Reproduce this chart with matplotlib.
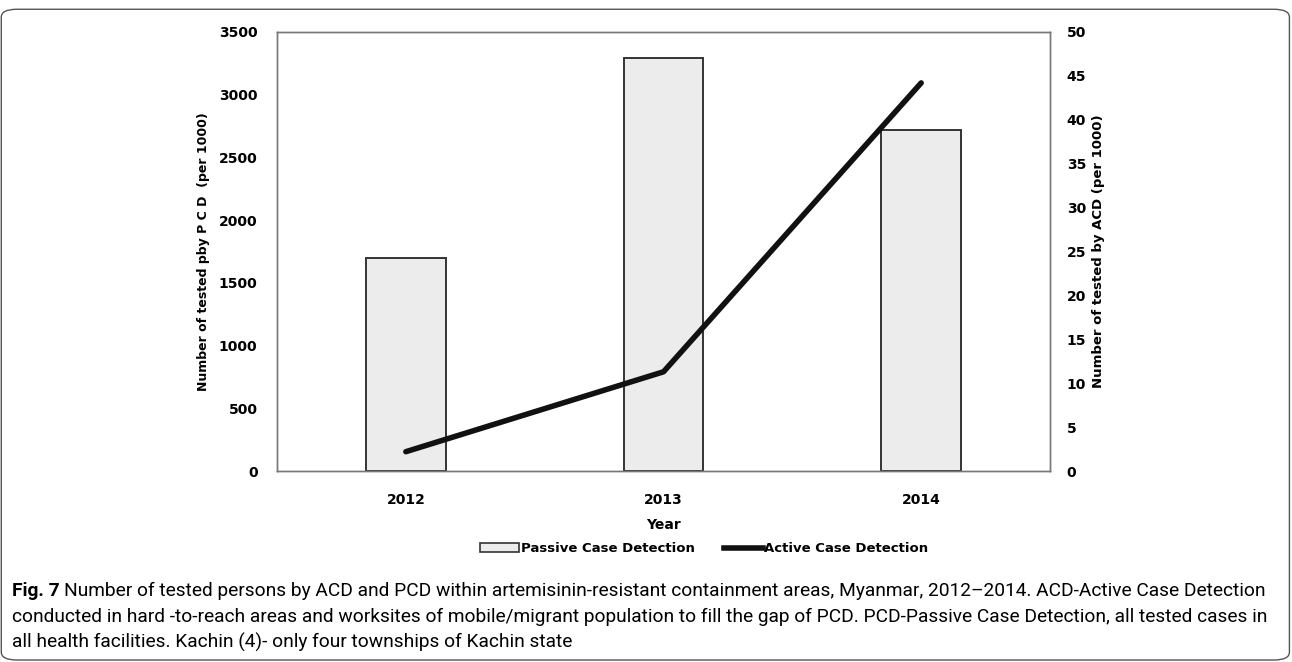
import matplotlib.pyplot as plt
from matplotlib.patches import FancyBboxPatch, Patch
from matplotlib.lines import Line2D

years = ["2012", "2013", "2014"]
pcd_tested = [1700, 3290, 2720]      # left axis, bars
acd_tested = [2.2, 11.3, 44.2]       # right axis, line

left_ticks = [0, 500, 1000, 1500, 2000, 2500, 3000, 3500]
right_ticks = [0, 5, 10, 15, 20, 25, 30, 35, 40, 45, 50]

caption_lines = [
    "Number of tested persons by ACD and PCD within artemisinin-resistant containment areas, "
    "Myanmar, 2012\u20132014. ACD-Active Case Detection",
    "conducted in hard -to-reach areas and worksites of mobile/migrant population to fill the gap "
    "of PCD. PCD-Passive Case Detection, all tested cases in",
    "all health facilities. Kachin (4)- only four townships of Kachin state",
]

cond = dict(family=["DejaVu Sans"], weight="bold")
plt.rcParams['font.family'] = ["DejaVu Sans"]

fig = plt.figure(figsize=(12.92, 6.62), dpi=100)
ax = fig.add_axes([0.2144, 0.2885, 0.5983, 0.6632])

x = range(len(years))
ax.bar(x, pcd_tested, width=0.31, color="#ebeceb", edgecolor="#333333", linewidth=1.4, zorder=2)
ax.set_ylim(0, 3500)
ax.set_xlim(-0.5, 2.5)
ax.set_yticks(left_ticks)
ax.set_xticks(list(x))
ax.set_xticklabels(years, fontsize=10, **cond)
ax.set_yticklabels([str(t) for t in left_ticks], fontsize=10, **cond)
ax.tick_params(length=0, pad=14)
ax.tick_params(axis="x", pad=16)
ax.set_ylabel("Number of tested pby P C D  (per 1000)", fontsize=9, labelpad=6, **cond)
ax.set_xlabel("Year", fontsize=10, labelpad=8, **cond)
for s in ax.spines.values():
    s.set_color("#777777")
    s.set_linewidth(1.0)

ax2 = ax.twinx()
ax2.plot(list(x), acd_tested, color="#111111", linewidth=4, solid_capstyle="round", zorder=3)
ax2.set_ylim(0, 50)
ax2.set_yticks(right_ticks)
ax2.set_yticklabels([str(t) for t in right_ticks], fontsize=10, **cond)
ax2.tick_params(length=0, pad=12)
ax2.set_ylabel("Number of tested by ACD (per 1000)", fontsize=9.5, labelpad=4, **cond)
for s in ax2.spines.values():
    s.set_color("#777777")
    s.set_linewidth(1.0)

handles = [Patch(facecolor="#ebeceb", edgecolor="#333333", linewidth=1.2),
           Line2D([0], [0], color="#111111", linewidth=4)]
fig.legend(handles, ["Passive Case Detection", "Active Case Detection"],
           loc="center", bbox_to_anchor=(0.545, 0.171), ncol=2, frameon=False,
           prop={"family": "DejaVu Sans", "weight": "bold", "size": 9.5},
           handlelength=3.0, handletextpad=0.1, columnspacing=2.2)

cap_size = 13.8
cap_font = ["Roboto", "DejaVu Sans"]
fig.canvas.draw()
r = fig.canvas.get_renderer()
fig_lbl = fig.text(0.009, 0.107, "Fig. 7", fontsize=cap_size, fontweight="bold", va="center",
                   family=cap_font)
w = fig_lbl.get_window_extent(renderer=r).width / fig.bbox.width
fig.text(0.009 + w + 0.004, 0.107, caption_lines[0], fontsize=cap_size, va="center", family=cap_font)
fig.text(0.009, 0.068, caption_lines[1], fontsize=cap_size, va="center", family=cap_font)
fig.text(0.009, 0.029, caption_lines[2], fontsize=cap_size, va="center", family=cap_font)

border = FancyBboxPatch((0.001, 0.003), 0.997, 0.983, boxstyle="round,pad=0,rounding_size=0.012",
                        transform=fig.transFigure, fill=False, edgecolor="#555555", linewidth=1.0)
fig.patches.append(border)

fig.savefig("out.png", dpi=100)
